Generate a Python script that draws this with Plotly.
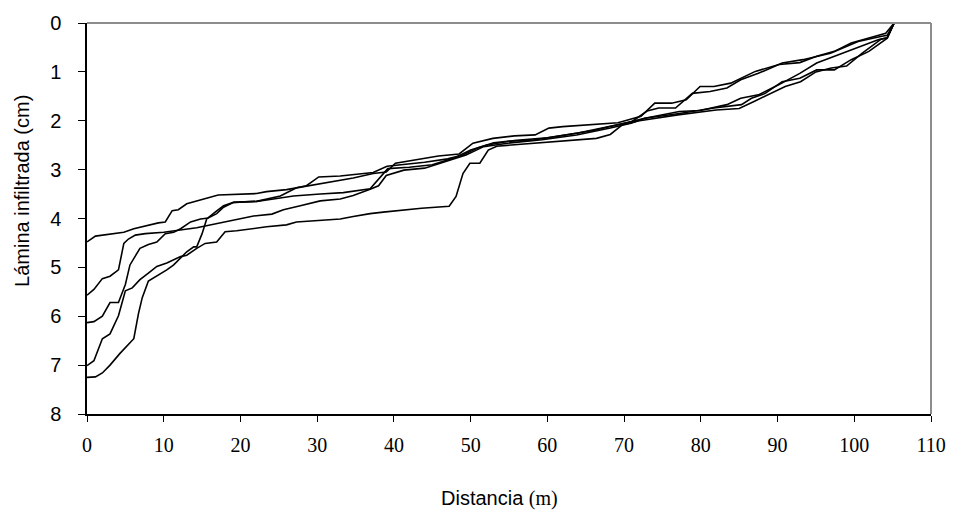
import plotly.graph_objects as go

# Infiltrated depth (cm) along the furrow (m), five irrigation events
dist_a = [0, 1.1, 4.8, 6.1, 9.3, 10.2, 11.1, 11.9, 13.0, 14.3, 17.1, 22.1, 23.4, 26.0, 30.4, 34.7, 37.3, 39.0,
          40.2, 43.1, 45.8, 48.5, 50.3, 52.9, 55.7, 58.4, 60.2, 62.0, 66.0, 69.2, 72.2, 74.0, 76.2, 78.1, 79.9,
          81.7, 83.9, 85.3, 87.1, 90.2, 92.9, 95.1, 97.4, 99.6, 101.9, 104.1, 105.2]
lam_a = [4.48, 4.36, 4.28, 4.21, 4.09, 4.07, 3.84, 3.82, 3.70, 3.64, 3.52, 3.49, 3.45, 3.41, 3.29, 3.17, 3.08, 3.05,
         2.87, 2.79, 2.72, 2.68, 2.46, 2.36, 2.31, 2.29, 2.15, 2.12, 2.07, 2.04, 1.91, 1.64, 1.64, 1.57, 1.30,
         1.30, 1.23, 1.13, 0.99, 0.85, 0.81, 0.68, 0.58, 0.41, 0.31, 0.21, 0.0]

dist_b = [0, 0.9, 2.0, 3.0, 4.1, 4.8, 5.4, 6.3, 7.6, 10.0, 14.3, 17.4, 21.7, 24.1, 25.6, 27.8, 30.4, 33.0, 34.7,
          36.9, 38.0, 39.0, 41.3, 44.0, 47.6, 49.4, 51.7, 54.8, 59.3, 63.8, 68.2, 70.9, 72.7, 77.2, 79.9, 83.4,
          85.2, 87.5, 90.2, 92.9, 95.1, 97.4, 99.6, 103.2, 104.3, 105.2]
lam_b = [5.57, 5.45, 5.23, 5.18, 5.05, 4.51, 4.42, 4.34, 4.31, 4.28, 4.19, 4.09, 3.95, 3.91, 3.82, 3.74, 3.64, 3.60,
         3.53, 3.40, 3.33, 3.12, 3.01, 2.97, 2.80, 2.70, 2.53, 2.46, 2.39, 2.29, 2.15, 2.05, 1.95, 1.81, 1.79,
         1.67, 1.54, 1.47, 1.26, 1.03, 0.82, 0.68, 0.55, 0.34, 0.30, 0.0]

dist_c = [0, 0.9, 2.0, 3.0, 4.1, 5.0, 5.6, 6.9, 8.0, 9.1, 10.2, 11.3, 12.2, 13.5, 14.8, 15.8, 16.9, 17.8, 19.1,
          22.1, 24.3, 26.9, 30.4, 33.4, 36.9, 38.0, 39.2, 42.0, 45.0, 48.0, 50.0, 52.0, 55.0, 58.0, 62.0, 66.0,
          70.0, 72.7, 77.2, 81.7, 85.3, 86.6, 88.4, 90.6, 92.9, 95.1, 97.4, 99.6, 101.9, 103.6, 104.3, 105.2]
lam_c = [6.13, 6.11, 6.00, 5.72, 5.72, 5.35, 4.95, 4.61, 4.53, 4.48, 4.31, 4.28, 4.21, 4.07, 4.01, 3.99, 3.90, 3.77,
         3.67, 3.65, 3.60, 3.54, 3.50, 3.47, 3.39, 3.20, 2.98, 2.95, 2.90, 2.75, 2.60, 2.50, 2.42, 2.40, 2.30,
         2.20, 2.05, 1.95, 1.85, 1.74, 1.67, 1.54, 1.44, 1.20, 1.13, 0.96, 0.96, 0.75, 0.58, 0.38, 0.31, 0.0]

dist_d = [0, 0.9, 2.0, 3.0, 4.1, 5.0, 5.9, 6.9, 8.0, 9.1, 10.4, 11.3, 12.2, 13.0, 14.3, 15.4, 16.9, 18.0, 19.5,
          23.4, 26.0, 27.3, 30.4, 33.0, 34.7, 36.9, 38.6, 41.3, 43.6, 47.2, 48.1, 49.0, 49.9, 51.2, 52.3, 53.4,
          56.1, 59.3, 63.8, 66.4, 68.2, 69.8, 72.0, 77.0, 82.0, 85.0, 87.0, 89.0, 91.0, 93.0, 95.0, 97.0, 99.0,
          101.0, 103.5, 104.3, 105.2]
lam_d = [7.01, 6.91, 6.46, 6.36, 5.99, 5.48, 5.42, 5.25, 5.12, 4.98, 4.91, 4.85, 4.78, 4.75, 4.61, 4.51, 4.48, 4.27,
         4.25, 4.17, 4.13, 4.07, 4.04, 4.01, 3.96, 3.90, 3.87, 3.82, 3.79, 3.75, 3.55, 3.08, 2.87, 2.87, 2.60,
         2.52, 2.49, 2.45, 2.39, 2.36, 2.28, 2.08, 2.00, 1.88, 1.78, 1.75, 1.60, 1.45, 1.30, 1.20, 1.00, 0.92,
         0.88, 0.62, 0.33, 0.30, 0.0]

dist_e = [0, 1.1, 2.0, 3.0, 4.3, 6.1, 6.7, 7.2, 8.0, 9.1, 10.4, 11.3, 12.2, 13.0, 13.9, 14.3, 15.0, 15.6, 16.7,
          17.8, 19.1, 22.1, 25.2, 27.3, 28.6, 30.2, 33.0, 37.3, 39.1, 41.0, 44.0, 47.0, 49.0, 51.0, 53.0, 56.0,
          60.0, 64.0, 68.0, 71.0, 73.0, 74.5, 76.7, 78.9, 81.2, 83.4, 85.2, 87.5, 90.6, 93.3, 96.9, 100.5, 103.6,
          104.3, 105.2]
lam_e = [7.25, 7.24, 7.16, 7.00, 6.76, 6.46, 5.95, 5.62, 5.28, 5.18, 5.05, 4.95, 4.80, 4.68, 4.58, 4.58, 4.31,
         4.01, 3.87, 3.74, 3.67, 3.65, 3.54, 3.37, 3.33, 3.15, 3.13, 3.06, 2.93, 2.90, 2.85, 2.78, 2.70, 2.55,
         2.45, 2.40, 2.35, 2.25, 2.12, 2.02, 1.80, 1.74, 1.74, 1.44, 1.40, 1.33, 1.16, 1.03, 0.82, 0.75, 0.62,
         0.38, 0.27, 0.25, 0.0]

x_ticks = [0, 10, 20, 30, 40, 50, 60, 70, 80, 90, 100, 110]
y_ticks = [0, 1, 2, 3, 4, 5, 6, 7, 8]

series = [(dist_a, lam_a), (dist_b, lam_b), (dist_c, lam_c), (dist_d, lam_d), (dist_e, lam_e)]

W, H = 958, 517
ML, MR, MT, MB = 87, 26, 18, 103

fig = go.Figure()
for xs, ys in series:
    fig.add_trace(go.Scatter(x=xs, y=ys, mode="lines",
                             line=dict(color="black", width=1.6),
                             showlegend=False, hoverinfo="skip"))

sans = "Liberation Sans, Arial, sans-serif"
serif = "Liberation Serif, Times New Roman, serif"

fig.update_layout(
    width=W, height=H,
    margin=dict(l=ML, r=MR, t=MT, b=MB),
    paper_bgcolor="white", plot_bgcolor="white",
    xaxis=dict(range=[0, 110], tickvals=x_ticks, ticktext=[str(v) for v in x_ticks],
               showgrid=False, zeroline=False, showline=True, linecolor="black", linewidth=1.5,
               ticks="outside", ticklen=6, tickcolor="black", tickwidth=1,
               tickfont=dict(family=serif, size=20, color="black"), ticklabelstandoff=6),
    yaxis=dict(range=[8, 0], tickvals=y_ticks, ticktext=[str(v) for v in y_ticks],
               showgrid=False, zeroline=False, showline=True, linecolor="black", linewidth=1.5,
               ticks="outside", ticklen=7, tickcolor="black", tickwidth=1,
               tickfont=dict(family=sans, size=20, color="black"), ticklabelstandoff=13),
    shapes=[
        dict(type="line", xref="paper", yref="paper", x0=0, x1=1, y0=1, y1=1,
             line=dict(color="#8c8c8c", width=2)),
        dict(type="line", xref="paper", yref="paper", x0=1, x1=1, y0=0, y1=1,
             line=dict(color="#8c8c8c", width=2)),
    ],
    annotations=[
        dict(text="Lámina infiltrada (cm)", textangle=-90, showarrow=False,
             xref="paper", yref="paper",
             x=(22 - ML) / (W - ML - MR), y=1 - (188 - MT) / (H - MT - MB),
             xanchor="center", yanchor="middle",
             font=dict(family=sans, size=20, color="black")),
        dict(text="Distancia <span style=\"font-family:'Liberation Serif', serif\">(m)</span>",
             showarrow=False, xref="paper", yref="paper",
             x=(500 - ML) / (W - ML - MR), y=-(500 - (H - MB)) / (H - MT - MB),
             xanchor="center", yanchor="middle",
             font=dict(family=sans, size=20, color="black")),
    ],
)

fig.write_html("out.html")
